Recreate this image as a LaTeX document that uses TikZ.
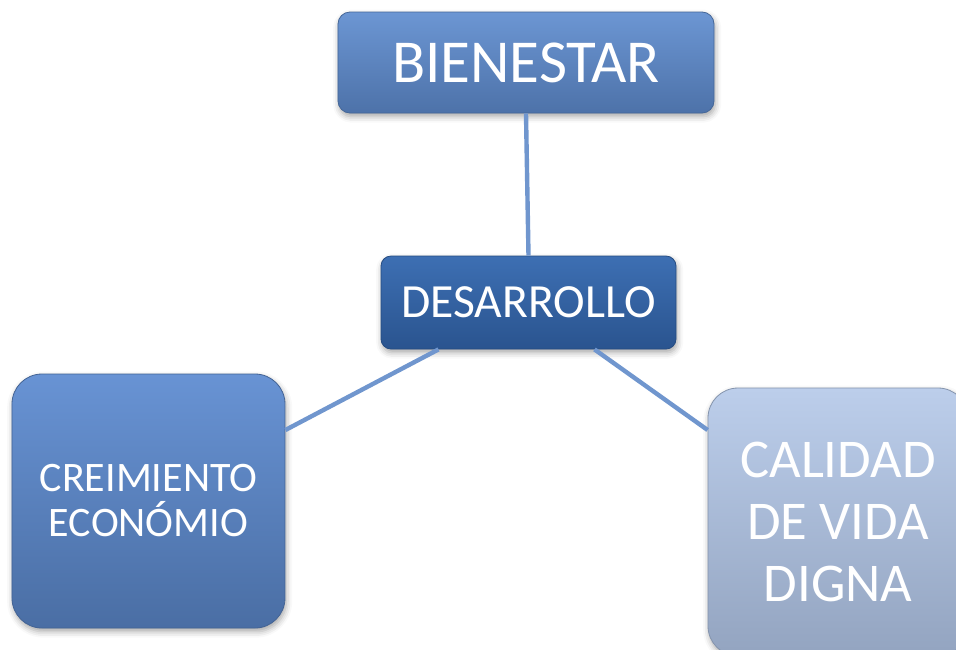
\documentclass[tikz,border=0pt]{standalone}
\usepackage{fontspec}
\setmainfont{Carlito}
\usepackage{tikz}
\usetikzlibrary{shadows.blur}

\definecolor{bienTop}{HTML}{6C96D3}
\definecolor{bienBot}{HTML}{4D72A9}
\definecolor{desTop}{HTML}{3D6FB3}
\definecolor{desBot}{HTML}{2A548F}
\definecolor{creTop}{HTML}{6893D4}
\definecolor{creBot}{HTML}{4A6EA4}
\definecolor{calTop}{HTML}{BCCEEB}
\definecolor{calBot}{HTML}{93A4C0}
\definecolor{linkblue}{HTML}{7096CE}

\tikzset{
  box/.style={rectangle, text=white, align=center, inner sep=0pt,
    shading=axis, shading angle=0,
    blur shadow={shadow xshift=0.6pt, shadow yshift=-1.8pt, shadow opacity=35, shadow blur radius=3pt}},
  link/.style={draw=linkblue, line width=2.2pt}
}

\begin{document}
\begin{tikzpicture}
\useasboundingbox (-263pt,31.25pt) rectangle (215pt,-293.25pt);
\clip (-263pt,31.25pt) rectangle (215pt,-293.25pt);
\node[box,top color=bienTop,bottom color=bienBot,draw=bienBot!90!black,line width=0.4pt,
  minimum width=188pt,minimum height=50.5pt,rounded corners=6pt,
  font=\fontsize{30.5}{36}\selectfont] (bien) at (0,0) {BIENESTAR};
\node[box,below of=bien,node distance=120pt,xshift=1.25pt,
  top color=desTop,bottom color=desBot,draw=desBot!90!black,line width=0.4pt,
  minimum width=147.5pt,minimum height=46.5pt,rounded corners=5pt,
  font=\fontsize{23.8}{28}\selectfont] (des) {DESARROLLO};
\node[box,below of=des,node distance=99.25pt,xshift=-190pt,
  top color=creTop,bottom color=creBot,draw=creBot!90!black,line width=0.4pt,
  minimum width=136.5pt,minimum height=127pt,rounded corners=15pt,
  font=\fontsize{21}{22.5}\selectfont] (cre) {CREIMIENTO\\ECONÓMIO};
\node[box,below of=des,node distance=109.75pt,xshift=154.75pt,
  top color=calTop,bottom color=calBot,draw=calBot!90!black,line width=0.4pt,
  minimum width=130pt,minimum height=134pt,rounded corners=15pt,
  font=\fontsize{27.3}{31}\selectfont] (cal) {CALIDAD\\DE VIDA\\DIGNA};
% connectors, edge to edge
\path[link] (bien.south) -- (des.north);
\path[link] ([xshift=-45pt]des.south) -- ([yshift=35.5pt]cre.east);
\path[link] ([xshift=33pt]des.south) -- ([yshift=46pt]cal.west);
\end{tikzpicture}
\end{document}
